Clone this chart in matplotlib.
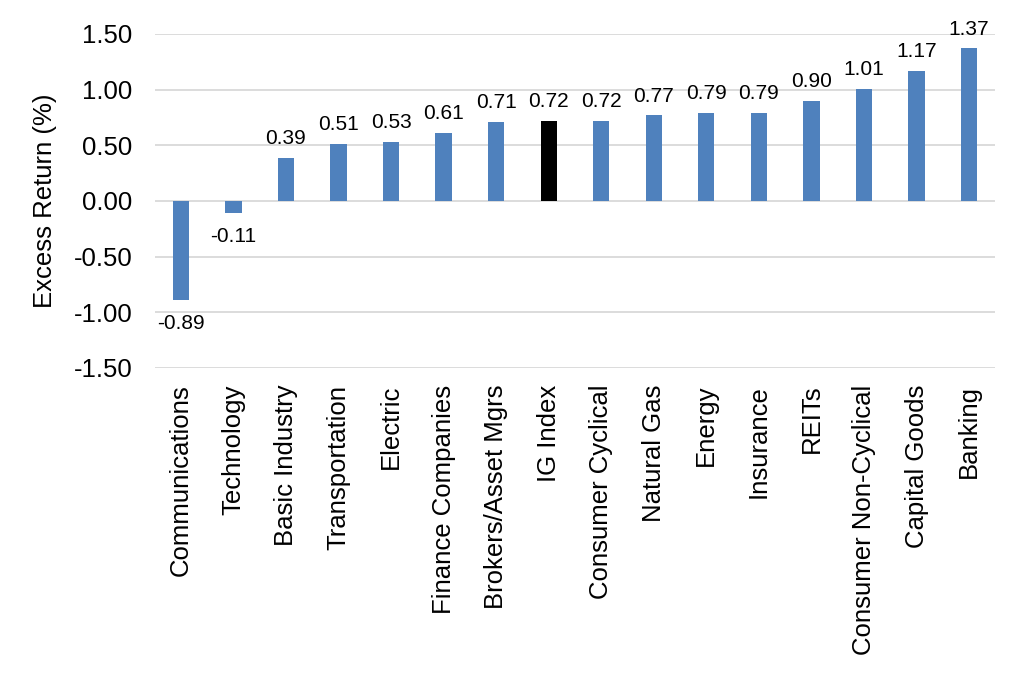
import matplotlib
matplotlib.use("Agg")
import matplotlib.pyplot as plt

categories = ["Communications", "Technology", "Basic Industry", "Transportation", "Electric",
              "Finance Companies", "Brokers/Asset Mgrs", "IG Index", "Consumer Cyclical",
              "Natural Gas", "Energy", "Insurance", "REITs", "Consumer Non-Cyclical",
              "Capital Goods", "Banking"]
values = [-0.89, -0.11, 0.39, 0.51, 0.53, 0.61, 0.71, 0.72, 0.72, 0.77, 0.79, 0.79, 0.90, 1.01, 1.17, 1.37]
yticks = [-1.5, -1.0, -0.5, 0.0, 0.5, 1.0, 1.5]

plt.rcParams['font.family'] = ['Liberation Sans', 'DejaVu Sans']

fig = plt.figure(figsize=(10.24, 6.93), dpi=100)
ax = fig.add_axes([0.151, 0.469, 0.821, 0.482])

colors = ['#000000' if c == "IG Index" else '#4F81BD' for c in categories]
x = list(range(len(categories)))
ax.bar(x, values, width=0.31, color=colors, zorder=3)

for xi, v in zip(x, values):
    if v >= 0:
        ax.annotate(f"{v:.2f}", (xi, v), xytext=(0, 7), textcoords='offset points',
                    ha='center', va='bottom', fontsize=15)
    else:
        ax.annotate(f"{v:.2f}", (xi, v), xytext=(0, -10), textcoords='offset points',
                    ha='center', va='top', fontsize=15)

ax.set_xlim(-0.5, len(categories) - 0.5)
ax.set_ylim(-1.5, 1.5)
ax.set_yticks(yticks)
ax.set_yticklabels([f"{t:.2f}" for t in yticks], fontsize=18.5)
ax.set_xticks(x)
ax.set_xticklabels(categories, rotation=90, fontsize=18.5)
ax.tick_params(axis='both', length=0)
ax.tick_params(axis='x', pad=12)
ax.tick_params(axis='y', pad=16)
ax.grid(axis='y', color='#D9D9D9', linewidth=1.3, zorder=0)
for s in ax.spines.values():
    s.set_visible(False)
ax.set_ylabel("Excess Return (%)", fontsize=18.5, labelpad=12)

fig.savefig("out.png", dpi=100)
